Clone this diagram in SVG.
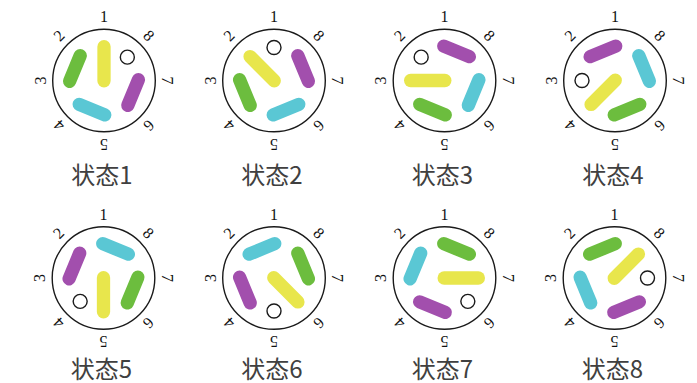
<svg xmlns="http://www.w3.org/2000/svg" xmlns:xlink="http://www.w3.org/1999/xlink" width="697" height="383" viewBox="0 0 697 383">
<style>
.ring{fill:none;stroke:#1a1a1a;stroke-width:1.4}
.num{font-family:"Liberation Serif","DejaVu Serif",serif;font-size:16px;fill:#111;text-anchor:middle}
.lbl{font-family:"Noto Sans CJK SC","Noto Sans",sans-serif;font-size:24px;fill:#404040;text-anchor:middle}
.hole{fill:#fff;stroke:#1a1a1a;stroke-width:1.4}
.y{fill:#e8e64c}.g{fill:#6cbd3e}.p{fill:#a24fad}.c{fill:#5ac7d4}
</style>
<defs>
<g id="dial">
<circle class="ring" r="51.3"/>
<text class="num" transform="rotate(0) translate(0,-63.5)" y="5.3">1</text>
<text class="num" transform="rotate(315) translate(0,-63.5)" y="5.3">2</text>
<text class="num" transform="rotate(270) translate(0,-63.5)" y="5.3">3</text>
<text class="num" transform="rotate(225) translate(0,-63.5)" y="5.3">4</text>
<text class="num" transform="rotate(180) translate(0,-63.5)" y="5.3">5</text>
<text class="num" transform="rotate(135) translate(0,-63.5)" y="5.3">6</text>
<text class="num" transform="rotate(90) translate(0,-63.5)" y="5.3">7</text>
<text class="num" transform="rotate(45) translate(0,-63.5)" y="5.3">8</text>
</g>
<g id="pat">
<rect class="y" x="-6.65" y="-40.5" width="13.3" height="47.5" rx="6.65"/>
<rect class="p" transform="rotate(112.5) translate(0,-31.5)" x="-20.5" y="-6.65" width="41" height="13.3" rx="6.65"/>
<rect class="c" transform="rotate(202.5) translate(0,-31.5)" x="-20.5" y="-6.65" width="41" height="13.3" rx="6.65"/>
<rect class="g" transform="rotate(292.5) translate(0,-31.5)" x="-20.5" y="-6.65" width="41" height="13.3" rx="6.65"/>
<circle class="hole" transform="rotate(45) translate(0,-33)" r="7"/>
</g>
</defs>
<g id="state1"><g transform="translate(104,80.5)"><use xlink:href="#dial"/><use xlink:href="#pat"/></g><text class="lbl" x="102" y="184">状态1</text></g>
<g id="state2"><g transform="translate(274,80.5)"><use xlink:href="#dial"/><use xlink:href="#pat" transform="rotate(-45)"/></g><text class="lbl" x="272" y="184">状态2</text></g>
<g id="state3"><g transform="translate(444.5,80.5)"><use xlink:href="#dial"/><use xlink:href="#pat" transform="rotate(-90)"/></g><text class="lbl" x="442.5" y="184">状态3</text></g>
<g id="state4"><g transform="translate(615,80.5)"><use xlink:href="#dial"/><use xlink:href="#pat" transform="rotate(-135)"/></g><text class="lbl" x="613" y="184">状态4</text></g>
<g id="state5"><g transform="translate(103.5,278)"><use xlink:href="#dial"/><use xlink:href="#pat" transform="rotate(-180)"/></g><text class="lbl" x="101.5" y="377.5">状态5</text></g>
<g id="state6"><g transform="translate(274,278)"><use xlink:href="#dial"/><use xlink:href="#pat" transform="rotate(-225)"/></g><text class="lbl" x="272" y="377.5">状态6</text></g>
<g id="state7"><g transform="translate(444.5,278)"><use xlink:href="#dial"/><use xlink:href="#pat" transform="rotate(-270)"/></g><text class="lbl" x="442.5" y="377.5">状态7</text></g>
<g id="state8"><g transform="translate(614.5,278)"><use xlink:href="#dial"/><use xlink:href="#pat" transform="rotate(-315)"/></g><text class="lbl" x="612.5" y="377.5">状态8</text></g>
</svg>
